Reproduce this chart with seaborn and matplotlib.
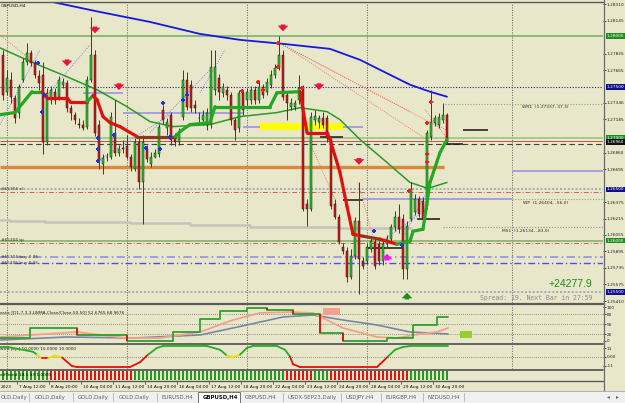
import numpy as np
import pandas as pd
import matplotlib
matplotlib.use("Agg")
import matplotlib.pyplot as plt
import seaborn as sns
from matplotlib.collections import LineCollection
from matplotlib.patches import Rectangle

# ---------------- data (GBPUSD H4) ----------------
opens = [1.27814, 1.27454, 1.27571, 1.27396, 1.27250, 1.27571, 1.27746, 1.27833, 1.27736, 1.27610,
         1.27619, 1.26967, 1.27376, 1.27454, 1.27405, 1.27522, 1.27541, 1.27298, 1.27230, 1.27143,
         1.27133, 1.27113, 1.27571, 1.27814, 1.27133, 1.26744, 1.26812, 1.26812, 1.27055, 1.26860,
         1.26909, 1.26919, 1.26812, 1.26695, 1.26967, 1.26568, 1.26890, 1.26744, 1.26821, 1.26841,
         1.27279, 1.27104, 1.27230, 1.27016, 1.26958, 1.27211, 1.27571, 1.27522, 1.27327, 1.27201,
         1.27181, 1.27133, 1.27152, 1.27473, 1.27590, 1.27444, 1.27473, 1.27425, 1.27181, 1.27104,
         1.27444, 1.27376, 1.27376, 1.27473, 1.27376, 1.27503, 1.27454, 1.27522, 1.27619, 1.27687,
         1.27814, 1.27425, 1.27308, 1.27308, 1.27376, 1.27493, 1.26354, 1.26306, 1.27181, 1.27162,
         1.27201, 1.27201, 1.26987, 1.26354, 1.26228, 1.25936, 1.25897, 1.25644, 1.25848, 1.26189,
         1.25800, 1.25800, 1.25917, 1.25985, 1.25965, 1.25800, 1.25965, 1.26014, 1.26131, 1.26228,
         1.26208, 1.25722, 1.26208, 1.26277, 1.26403, 1.26384, 1.26335, 1.27016, 1.27152, 1.27133,
         1.27181, 1.27230]
highs = [1.27863, 1.27668, 1.27648, 1.27425, 1.27532, 1.27785, 1.27931, 1.27863, 1.27765, 1.27668,
         1.27746, 1.27493, 1.27512, 1.27493, 1.27610, 1.27590, 1.27571, 1.27327, 1.27259, 1.27201,
         1.27181, 1.27610, 1.28184, 1.27863, 1.27181, 1.26841, 1.26860, 1.27259, 1.27376, 1.26938,
         1.26987, 1.27035, 1.26841, 1.27006, 1.27006, 1.27035, 1.26938, 1.26870, 1.26890, 1.27143,
         1.27327, 1.27201, 1.27259, 1.27055, 1.27104, 1.27668, 1.27648, 1.27571, 1.27376, 1.27259,
         1.27279, 1.27298, 1.27863, 1.27863, 1.27629, 1.27541, 1.27512, 1.27454, 1.27201, 1.27473,
         1.27473, 1.27493, 1.27512, 1.27512, 1.27571, 1.27532, 1.27590, 1.27668, 1.27726, 1.27999,
         1.27863, 1.27454, 1.27396, 1.27376, 1.27619, 1.27522, 1.26403, 1.27259, 1.27279, 1.27230,
         1.27259, 1.27230, 1.27006, 1.26403, 1.26257, 1.25975, 1.25936, 1.25917, 1.26228, 1.26568,
         1.25839, 1.25975, 1.26033, 1.26014, 1.25994, 1.26014, 1.26053, 1.26160, 1.26286, 1.26354,
         1.26257, 1.26189, 1.26568, 1.26452, 1.26432, 1.26423, 1.27084, 1.27473, 1.27230, 1.27250,
         1.27347, 1.27250]
lows = [1.27376, 1.27425, 1.27347, 1.27152, 1.27201, 1.27551, 1.27717, 1.27707, 1.27590, 1.27473,
        1.26841, 1.26938, 1.27337, 1.27337, 1.27376, 1.27493, 1.27259, 1.27181, 1.27143, 1.27104,
        1.27084, 1.27094, 1.27551, 1.27026, 1.26695, 1.26646, 1.26773, 1.26792, 1.26831, 1.26831,
        1.26851, 1.26792, 1.26675, 1.26675, 1.26500, 1.26160, 1.26763, 1.26714, 1.26802, 1.26821,
        1.27143, 1.27035, 1.26938, 1.26919, 1.26929, 1.27181, 1.27279, 1.27259, 1.27250, 1.27143,
        1.27133, 1.27084, 1.27104, 1.27425, 1.27376, 1.27405, 1.27376, 1.27133, 1.26987, 1.27065,
        1.27230, 1.27327, 1.27337, 1.27337, 1.27347, 1.27396, 1.27425, 1.27493, 1.27590, 1.27668,
        1.27376, 1.27181, 1.27279, 1.27279, 1.27337, 1.26286, 1.26140, 1.26286, 1.27133, 1.27104,
        1.27104, 1.26967, 1.26306, 1.26208, 1.25965, 1.25868, 1.25595, 1.25625, 1.25819, 1.25479,
        1.25722, 1.25771, 1.25887, 1.25722, 1.25761, 1.25761, 1.25936, 1.25985, 1.26092, 1.26072,
        1.25625, 1.25625, 1.26189, 1.26247, 1.26228, 1.26179, 1.26306, 1.26987, 1.27123, 1.27104,
        1.27152, 1.26940]
closes = [1.27425, 1.27590, 1.27405, 1.27201, 1.27503, 1.27746, 1.27833, 1.27736, 1.27619, 1.27541,
          1.26967, 1.27444, 1.27473, 1.27376, 1.27571, 1.27551, 1.27298, 1.27250, 1.27181, 1.27133,
          1.27104, 1.27571, 1.27814, 1.27055, 1.26773, 1.26802, 1.26821, 1.27211, 1.26860, 1.26899,
          1.26890, 1.26812, 1.26714, 1.26967, 1.26568, 1.26967, 1.26792, 1.26821, 1.26860, 1.27113,
          1.27181, 1.27162, 1.26987, 1.26958, 1.27065, 1.27571, 1.27308, 1.27298, 1.27298, 1.27196,
          1.27230, 1.27250, 1.27697, 1.27697, 1.27454, 1.27503, 1.27425, 1.27181, 1.27084, 1.27444,
          1.27279, 1.27454, 1.27473, 1.27376, 1.27503, 1.27425, 1.27551, 1.27619, 1.27687, 1.27814,
          1.27405, 1.27347, 1.27347, 1.27347, 1.27493, 1.26306, 1.26306, 1.27211, 1.27220, 1.27201,
          1.27133, 1.27006, 1.26335, 1.26228, 1.25985, 1.25897, 1.25644, 1.25848, 1.26189, 1.25819,
          1.25751, 1.25936, 1.25994, 1.25751, 1.25800, 1.25965, 1.26014, 1.26131, 1.26228, 1.26111,
          1.25722, 1.26140, 1.26500, 1.26403, 1.26257, 1.26208, 1.27055, 1.27162, 1.27201, 1.27211,
          1.27230, 1.26960]

# slow moving average (blue), read at knots
ma_blue_bar = [9.25, 11.25, 24.25, 36.75, 49.25, 59.25, 70, 81.75, 89.25, 96.75, 101.75, 106.75, 111]
ma_blue_val = [1.28359, 1.28339, 1.28232, 1.28135, 1.28018, 1.27960, 1.27921, 1.27872, 1.27765,
               1.27619, 1.27522, 1.27454, 1.27405]
# medium moving average (thin green)
ma_green_bar = [-0.75, 4.25, 10, 16, 23.5, 31, 36.75, 42.5, 51.75, 59.25, 68.5, 74.25, 81, 84.25,
                89.25, 96, 101.75, 106.25, 111]
ma_green_val = [1.27882, 1.27794, 1.27697, 1.27600, 1.27473, 1.27308, 1.27162, 1.27113, 1.27133,
                1.27211, 1.27250, 1.27298, 1.27259, 1.27181, 1.26987, 1.26763, 1.26568, 1.26510, 1.26568]
# trend line (thick, coloured by direction)
trend_bar = [-0.75, 3, 7.25, 9.75, 11, 16, 16.75, 21, 22.5, 23.5, 25, 26.75, 29.25, 33.5, 43, 44.25,
             46.75, 51.75, 53, 66.75, 68.5, 74.25, 76, 81, 81.75, 84.25, 86, 87.5, 90, 94.25, 98.5,
             101.75, 102.5, 105, 106.75, 109.25, 111]
trend_val = [1.27230, 1.27250, 1.27454, 1.27454, 1.27396, 1.27396, 1.27357, 1.27357, 1.27415, 1.27376,
             1.27211, 1.27152, 1.27113, 1.27016, 1.27016, 1.27065, 1.27133, 1.27152, 1.27308, 1.27308,
             1.27444, 1.27454, 1.27055, 1.27055, 1.26987, 1.26666, 1.26335, 1.26062, 1.26043, 1.26014,
             1.25965, 1.25994, 1.26092, 1.26111, 1.26568, 1.26860, 1.26987]
trend_dir = "GGGRRRRGRRRRRBGGGGGGGRRRRRRRBRGGGGGG"

# weekly pivot line (lavender)
pivot_from = [20, 30, 60, 90, 127.25]
pivot_to = [30, 60, 90, 127.25, 150]
pivot_val = [1.27444, 1.27250, 1.27113, 1.26403, 1.26675]
# grey step line
grey_bar = [-0.75, 1.75, 10.5, 31.75, 46.75, 61.75, 84.25, 102]
grey_val = [1.26199, 1.26189, 1.26179, 1.26170, 1.26150, 1.26131, 1.26121, 1.26121]

# short black levels
blk_from = [79.25, 85, 91, 103.5, 110, 115]
blk_to = [85, 90, 100, 109.25, 115, 121.25]
blk_val = [1.27016, 1.26393, 1.25926, 1.26208, 1.26948, 1.27084]

# dotted fan lines
fan_red = [((-0.75, 1.28009), (7.5, 1.27746)), ((70, 1.27911), (109.25, 1.27104)),
           ((70, 1.27911), (106.75, 1.26967)), ((70, 1.27911), (101.75, 1.27259)),
           ((76, 1.27016), (83, 1.26403)), ((88.75, 1.26568), (93, 1.25965)),
           ((105.5, 1.27279), (111.25, 1.26987)), ((106.75, 1.27181), (111.25, 1.27065))]
fan_blue = [((-0.75, 1.27133), (9.25, 1.27863)), ((10, 1.27376), (21.75, 1.27911)),
            ((36.75, 1.27055), (51.75, 1.27668)), ((49.25, 1.27444), (55.5, 1.27863)),
            ((24.25, 1.26792), (41.75, 1.27230)), ((91.75, 1.25917), (104.25, 1.26257)),
            ((100.5, 1.26062), (105.5, 1.26452))]

# signal markers
blue_pts_bar = [8.75, 10.25, 9.75, 23.75, 23.75, 23.75, 27.75, 35.75, 39.25, 40, 41.75, 45, 46, 92.75, 99.75]
blue_pts_val = [1.27736, 1.27425, 1.27259, 1.27006, 1.26890, 1.26773, 1.27035, 1.26909, 1.26890,
                1.27347, 1.27016, 1.27376, 1.27425, 1.26092, 1.25955]
red_pts_bar = [68.75, 68.75, 59.75, 63.75, 65, 74.75, 107, 106, 101.5, 106, 106]
red_pts_val = [1.27931, 1.27697, 1.27464, 1.27551, 1.27473, 1.27493, 1.27357, 1.27152, 1.26481,
               1.26841, 1.26763]
down_arrow_bar = [23, 16, 29, 70, 79, 89]
down_arrow_val = [1.28057, 1.27736, 1.27503, 1.28077, 1.27503, 1.26773]
up_arrow_bar = [96, 101]
up_arrow_val = [1.25839, 1.25459]

price_ticks = [1.28310, 1.28145, 1.27825, 1.27665, 1.27346, 1.27185, 1.26860, 1.26695, 1.26375,
               1.26215, 1.26055, 1.25895, 1.25735, 1.25575, 1.25410]

# stochastic pane
sto_step_bar = [-0.75, 6.75, 18.5, 31, 42.5, 49.25, 54.25, 61, 66, 72.5, 79.25, 85, 96, 102.5, 108.5, 111.25]
sto_step_val = [8, 38, 17, 0, 26, 65, 89, 98, 92, 80, 23, 0, 8, 47, 71, 71]
sto_sig_bar = [-0.75, 18.5, 24.25, 31, 39.25, 49.25, 57.5, 64.25, 71.75, 77.5, 85, 93.5, 98.5, 104.25, 108.5, 111.25]
sto_sig_val = [11, 26, 17, 8, 8, 26, 62, 83, 86, 83, 38, 11, 8, 20, 26, 38]
sto_slow_bar = [-0.75, 16, 32.5, 49.25, 57.5, 70, 77.5, 85, 93.5, 101.75, 111.25]
sto_slow_val = [2, 11, 8, 17, 38, 71, 77, 62, 47, 26, 20]

# trend oscillator pane
osc_bar = [-0.75, 1.25, 7.5, 8.5, 9.75, 11.25, 13, 14.75, 17.25, 18.5, 31.75, 34.25, 36.25, 38.5, 40,
           51, 54.25, 56, 57.5, 59.25, 61, 62.5, 68.5, 70.5, 71.75, 72.5, 74.25, 93.5, 94.25, 96.25,
           98, 100, 101.75, 111.25]
osc_val = [12.8, 12.8, 6.7, 3.0, -1.8, -1.8, 1.8, -0.6, -11.6, -12.8, -12.8, -6.7, 3.0, 11.6, 14.0,
           14.0, 9.2, 1.8, -0.6, 3.0, 11.6, 14.0, 14.0, 9.2, 0.6, -9.2, -12.8, -12.8, -9.2, 0.6,
           9.2, 12.8, 14.0, 14.0]

# trend bars (G up / R down)
signal = ("GGGGGGGGGGGG" + "RRRRRRRRRRRRRRRRRRRRR" + "GGGGGGGGGGGGGGGGGGGGGGGGGGGGGGGGGGGGGG"
          + "RRRRRRR" + "GGGG" + "RRRRRRRRRRRRRRRRRRRR" + "GGGGGGGGGG")

date_labels = ["2023", "7 Aug 12:00", "8 Aug 20:00", "10 Aug 04:00", "11 Aug 12:00",
               "14 Aug 20:00", "16 Aug 04:00", "17 Aug 12:00", "18 Aug 20:00", "22 Aug 04:00",
               "23 Aug 12:00", "24 Aug 20:00", "28 Aug 04:00", "29 Aug 12:00", "30 Aug 20:00"]
week_sep = [1, 31, 61, 91, 127.25]
tabs = ["OLD,Daily", "GOLD,Daily", "GOLD,Daily", "GOLD,Daily", "EURUSD,H4", "GBPUSD,H4",
        "GBPUSD,H4", "USDX-SEP23,Daily", "USDJPY,H4", "EURGBP,H4", "NZDUSD,H4"]

# ---------------- figure ----------------
sns.set_theme(style="white")
plt.rcParams["font.family"] = ["DejaVu Sans"]

W, H = 625, 403
BG = "#E9E7C9"
fig = plt.figure(figsize=(W / 100, H / 100), dpi=100)
fig.patch.set_facecolor(BG)
XL = (-0.75, 150.0)
FS = 3.1


def pane(y0, y1):
    ax = fig.add_axes([0, 1 - y1 / H, 603 / W, (y1 - y0) / H])
    ax.set_facecolor(BG)
    for s in ax.spines.values():
        s.set_visible(False)
    ax.set_xticks([])
    ax.yaxis.tick_right()
    ax.tick_params(axis="y", labelsize=FS, length=2, width=0.5, pad=0.8, colors="#202020",
                   direction="out")
    return ax


def sep(ax):
    for b in week_sep:
        ax.axvline(b, color="#6A6A6A", lw=0.6, ls=(0, (1.5, 1.5)), zorder=1)


ax = pane(3, 303)
sep(ax)

# horizontal levels
full = dict(xmin=XL[0], xmax=XL[1])
ax.hlines(1.28000, **full, color="#72B060", lw=1.1, zorder=2)
ax.hlines(1.27500, **full, color="#2A2A8A", lw=0.8, ls=(0, (1, 1.5)), zorder=2)
ax.hlines(1.27337, 110.5, XL[1], color="#8AAE6A", lw=0.8, ls=(0, (1, 1.5)), zorder=2)
ax.hlines(1.27000, **full, color="#8CC878", lw=1.1, zorder=2)
ax.hlines(1.26970, **full, color="#C85050", lw=0.7, zorder=2)
ax.hlines(1.26945, **full, color="#404040", lw=0.8, ls=(0, (5, 3)), zorder=2)
ax.hlines(1.26714, XL[0], 110.25, color="#D98A40", lw=2.4, zorder=2)
ax.hlines(1.26500, **full, color="#A8A8B8", lw=1.4, ls=(0, (1, 1)), zorder=2)
ax.hlines(1.26470, **full, color="#D06060", lw=0.7, ls=(0, (5, 2, 1, 2)), zorder=2)
ax.hlines(1.26404, 127.25, XL[1], color="#8AAE6A", lw=0.8, ls=(0, (1, 1.5)), zorder=2)
ax.hlines(1.26134, 110, XL[1], color="#909090", lw=0.8, ls=(0, (1, 1.5)), zorder=2)
ax.hlines(1.26000, **full, color="#78B060", lw=1.1, zorder=2)
ax.hlines(1.25975, **full, color="#D06060", lw=0.7, ls=(0, (5, 2, 1, 2)), zorder=2)
ax.hlines(1.25839, **full, color="#9090F0", lw=1.2, ls=(0, (5, 2, 1, 2)), zorder=2)
ax.hlines(1.25780, **full, color="#5050E0", lw=1.0, ls=(0, (5, 2, 1, 2)), zorder=2)
ax.hlines(1.25500, **full, color="#A8A8B8", lw=1.4, ls=(0, (1, 1)), zorder=2)
ax.hlines(pivot_val, pivot_from, pivot_to, color="#A8A0E0", lw=1.4, zorder=2)
ax.add_patch(Rectangle((64.25, 1.27084), 85 - 64.25, 1.27152 - 1.27084, color="#FFFF00", lw=0, zorder=2))
sns.lineplot(x=grey_bar, y=grey_val, ax=ax, color="#C4C4BC", lw=1.8, sort=False, zorder=2,
             drawstyle="steps-post")
ax.hlines(blk_val, blk_from, blk_to, color="#151515", lw=1.1, zorder=3)

for (a, b) in fan_red:
    ax.plot([a[0], b[0]], [a[1], b[1]], color="#F07868", lw=0.7, ls=(0, (1, 1.3)), zorder=3)
for (a, b) in fan_blue:
    ax.plot([a[0], b[0]], [a[1], b[1]], color="#8080F0", lw=0.7, ls=(0, (1, 1.3)), zorder=3)

sns.lineplot(x=ma_blue_bar, y=ma_blue_val, ax=ax, color="#1616E6", lw=1.3, sort=False, zorder=4)
sns.lineplot(x=ma_green_bar, y=ma_green_val, ax=ax, color="#2A9A2A", lw=1.1, sort=False, zorder=4)

# candles
df = pd.DataFrame(dict(i=np.arange(len(opens)), o=opens, h=highs, l=lows, c=closes))
bull = (df.c >= df.o).values
ax.vlines(df.i, df.l, df.h, colors="#3A3A3A", lw=0.7, zorder=5)
body = (df.c - df.o).abs().clip(lower=0.00003)
ax.bar(df.i, body, bottom=np.minimum(df.o, df.c), width=0.66,
       color=np.where(bull, "#1ED01E", "#E01414"), edgecolor="#1A1A1A", lw=0.35, zorder=6)

# trend line
pts = np.column_stack([trend_bar, trend_val])
segs = np.stack([pts[:-1], pts[1:]], axis=1)
tcol = {"G": "#22A822", "R": "#E01010", "B": "#8B3A1A"}
ax.add_collection(LineCollection(segs, colors=[tcol[c] for c in trend_dir], linewidths=2.3,
                                 capstyle="round", zorder=7))

ax.scatter(blue_pts_bar, blue_pts_val, s=5, color="#2030F0", marker="P", lw=0, zorder=8)
ax.scatter(red_pts_bar, red_pts_val, s=5, color="#F02020", marker="P", lw=0, zorder=8)

astyle = "simple,head_width=0.85,head_length=0.45,tail_width=0.36"
for xb, yv in zip(down_arrow_bar, down_arrow_val):
    ax.annotate("", xy=(xb, yv - 0.0006), xytext=(xb, yv + 0.0006),
                arrowprops=dict(arrowstyle=astyle, color="#E8143A", lw=0, mutation_scale=9), zorder=9)
for xb, yv, col in zip(up_arrow_bar, up_arrow_val, ["#FF10FF", "#1E8C1E"]):
    ax.annotate("", xy=(xb, yv + 0.0006), xytext=(xb, yv - 0.0006),
                arrowprops=dict(arrowstyle=astyle, color=col, lw=0, mutation_scale=9), zorder=9)

ax.set_xlim(*XL)
ax.set_ylim(1.253911, 1.283198)
ax.set_yticks(price_ticks)
ax.set_yticklabels([f"{t:.5f}" for t in price_ticks])
ax.set_xlabel("")
ax.set_ylabel("")

ytr = ax.get_yaxis_transform()
for val, fc in [(1.28000, "#1E8C1E"), (1.27500, "#10108A"), (1.27000, "#1E8C1E"),
                (1.26960, "#101010"), (1.26500, "#10108A"), (1.26000, "#1E8C1E"), (1.25500, "#10108A")]:
    ax.text(1.0065, val, f"{val:.5f}", transform=ytr, fontsize=FS, color="white", va="center",
            ha="left", bbox=dict(boxstyle="square,pad=0.2", fc=fc, ec="none"), zorder=20, clip_on=False)

lbl = dict(fontsize=3.2, color="#303030", va="top", ha="left")
ax.text(129.75, 1.27320, "WR1  (1.27337, 37.3)", **lbl)
ax.text(130.0, 1.26387, "WP  (1.26404, -56.0)", **lbl)
ax.text(124.75, 1.26117, "MS1  (1.26134, -83.0)", **lbl)
lft = dict(fontsize=3.1, color="#303030", va="center", ha="left")
ax.text(-0.6, 1.26505, "#65304 sl", **lft)
ax.text(-0.6, 1.26010, "#65304 tp", **lft)
ax.text(-0.6, 1.25845, "#65304 buy 0.05", **lft)
ax.text(-0.6, 1.25780, "#65305 buy 0.05", **lft)
ax.text(147.25, 1.25576, "+24277.9", fontsize=7.5, color="#1E8C1E", ha="right", va="center",
        family=["Liberation Sans"])
ax.text(119.25, 1.25440, "Spread: 19. Next Bar in 27:59", fontsize=4.7, color="#8C8C8C",
        ha="left", va="center", family=["DejaVu Sans Mono"])
ax.text(-0.5, 1.28290, "GBPUSD,H4", fontsize=3.2, color="#101010", ha="left", va="center")

# ---------------- stochastic pane ----------------
ax2 = pane(305, 343)
sep(ax2)
for lv in (20, 50, 80):
    ax2.axhline(lv, color="#707070", lw=0.6, ls=(0, (1, 1.5)), zorder=1)
ax2.add_patch(Rectangle((80, 77), 4.25, 21, color="#F4A090", lw=0, zorder=2))
ax2.add_patch(Rectangle((114.25, 8), 3, 21, color="#9ACD32", lw=0, zorder=2))
sns.lineplot(x=sto_slow_bar, y=sto_slow_val, ax=ax2, color="#7888A8", lw=1.2, sort=False, zorder=3)
sns.lineplot(x=sto_sig_bar, y=sto_sig_val, ax=ax2, color="#F4A08A", lw=1.3, sort=False, zorder=3)
ax2.step(sto_step_bar, sto_step_val, where="post", color="#2EA02E", lw=1.3, zorder=4)
for k in range(1, len(sto_step_val)):
    if sto_step_val[k] < sto_step_val[k - 1]:
        ax2.vlines(sto_step_bar[k], sto_step_val[k], sto_step_val[k - 1], color="#E01010", lw=1.3, zorder=5)
ax2.set_xlim(*XL)
ax2.set_ylim(-7, 107)
ax2.set_yticks([100, 80, 50, 20, 0])
ax2.set_yticklabels(["100", "80", "50", "20", "0"])
ax2.set_xlabel("")
ax2.set_ylabel("")
ax2.text(0.0, 0.8, "astic [D1,7,3,3,LWMA,Close/Close,50,50] 52.6765 68.9676",
         transform=ax2.transAxes, fontsize=3.1, color="#202020", va="center", ha="left")

# ---------------- oscillator pane ----------------
ax3 = pane(345, 369)
sep(ax3)
ax3.axhline(0, color="#707070", lw=0.6, ls=(0, (1, 1.5)), zorder=1)
opts = np.column_stack([osc_bar, osc_val])
osegs = np.stack([opts[:-1], opts[1:]], axis=1)
ocols = []
for s in osegs:
    m = s[:, 1].mean()
    ocols.append("#22B022" if m >= 3.5 else ("#E8E000" if m >= -1 else "#E01010"))
ax3.add_collection(LineCollection(osegs, colors=ocols, linewidths=1.3, capstyle="round", zorder=4))
ax3.set_xlim(*XL)
ax3.set_ylim(-15.3, 15.3)
ax3.set_yticks([11, 0, -11])
ax3.set_yticklabels(["11", "0.00", "-11"])
ax3.text(0.0, 0.85, "wtrd joy ] 10.0000 10.0000 10.0000", transform=ax3.transAxes,
         fontsize=3.1, color="#202020", va="center", ha="left")

# ---------------- trend bars pane ----------------
ax4 = pane(371, 380)
sig_df = pd.DataFrame(dict(i=np.arange(len(signal)), s=list(signal)))
ax4.bar(sig_df.i, 1, width=0.55, color=np.where(sig_df.s == "G", "#1E9A1E", "#E01414"), lw=0)
ax4.set_xlim(*XL)
ax4.set_ylim(0, 1)
ax4.set_yticks([])
ax4.text(0.0, 0.5, "offTrend 18.1.93 1.0000", transform=ax4.transAxes, fontsize=3.1,
         color="#101010", va="center", ha="left")

# ---------------- date axis ----------------
axd = fig.add_axes([0, 1 - 391 / H, 603 / W, 10 / H])
axd.set_xlim(*XL)
axd.set_ylim(0, 1)
axd.axis("off")
for k, lab in enumerate(date_labels):
    pos = -0.5 if k == 0 else 4 + 8 * (k - 1)
    if k > 0:
        axd.plot([pos - 0.5, pos - 0.5], [0.75, 1.0], color="#404040", lw=0.5)
    axd.text(pos, 0.42, lab, fontsize=3.2, color="#101010", ha="left", va="center")

# ---------------- frame lines & tabs (pixel overlay) ----------------
ov = fig.add_axes([0, 0, 1, 1])
ov.set_xlim(0, W)
ov.set_ylim(H, 0)
ov.axis("off")
ov.patch.set_alpha(0)
for yy, lw in [(1.5, 1.0), (303.8, 1.6), (344.0, 1.3), (370.0, 1.3), (380.6, 1.0)]:
    ov.plot([0, 603], [yy, yy], color="#5A5A5A", lw=lw)
ov.plot([603.5, 603.5], [0, 391], color="#6A6A6A", lw=0.9)
ov.add_patch(Rectangle((0, 391), W, 12, color="#F0F0F0", lw=0))
ov.plot([0, W], [391.3, 391.3], color="#A8A8A8", lw=0.6)
tab_x = [1, 35, 78, 119, 162, 203, 245, 288, 345, 386, 428]
for sx in [29, 73, 113, 157, 283, 341, 381, 423, 464]:
    ov.plot([sx, sx], [393, 401], color="#B0B0B0", lw=0.6)
ov.add_patch(Rectangle((198, 391.5), 42, 11, fc="white", ec="#707070", lw=0.7))
for k, (tx, lab) in enumerate(zip(tab_x, tabs)):
    sel = k == 5
    ov.text(tx, 397, lab, fontsize=3.9, color="#101010" if sel else "#606060", ha="left",
            va="center", fontweight="bold" if sel else "normal")
ov.text(607, 397, "◂", fontsize=4, color="#606060", va="center")
ov.text(616, 397, "▸", fontsize=4, color="#606060", va="center")

fig.savefig("out.png", dpi=100, facecolor=BG)
